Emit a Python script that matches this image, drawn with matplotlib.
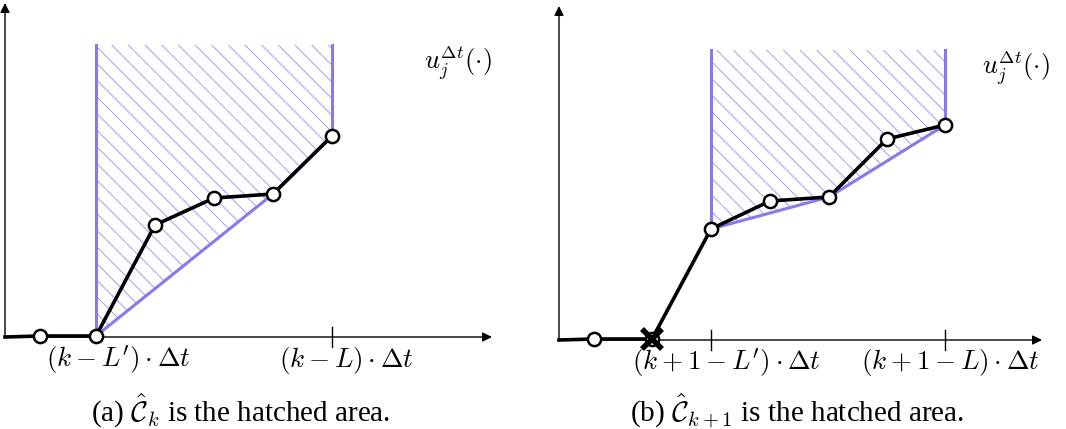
import matplotlib
matplotlib.use('Agg')
import matplotlib.pyplot as plt
from matplotlib.patches import Polygon

plt.rcParams['mathtext.fontset'] = 'cm'
plt.rcParams['font.family'] = 'Liberation Serif'
plt.rcParams['hatch.linewidth'] = 0.6

# diagram coordinates (same units as the 1066x429 canvas, y pointing down)
# panel (a)
a_x = [40, 96, 155, 214, 273, 332]
a_y = [336, 336, 225, 198, 194, 136]
a_hull = [1, 4, 5]             # indices of points on the lower boundary of the hatched set
a_ticks = [332]
a_ticklabels = [r"$(k-L')\cdot\Delta t$", r"$(k-L)\cdot\Delta t$"]
a_labelx = [118, 346]

# panel (b)
b_x = [594, 652, 711, 770, 829, 887, 945]
b_y = [339, 339, 229, 201, 197, 139, 125]
b_hull = [2, 4, 6]
b_ticks = [711, 945]
b_ticklabels = [r"$(k+1-L')\cdot\Delta t$", r"$(k+1-L)\cdot\Delta t$"]
b_labelx = [726, 950]

captions = [r"(a) $\hat{\mathcal{C}}_k$ is the hatched area.",
            r"(b) $\hat{\mathcal{C}}_{k+1}$ is the hatched area."]

purple = '#8a78ee'

fig = plt.figure(figsize=(10.66, 4.29), dpi=100)
ax = fig.add_axes([0, 0, 1, 1])
ax.set_xlim(0, 1066)
ax.set_ylim(429, 0)
ax.axis('off')


def panel(x0, axis_y, x_end, top, xs, ys, hull, ticks, ticklabels, labelx,
          hatch_top, ulabel_xy, caption, cap_x, cross=None):
    # axes with arrows
    ax.annotate('', xy=(x0, top), xytext=(x0, axis_y + 1),
                arrowprops=dict(arrowstyle='-|>', lw=1.0, color='k',
                                mutation_scale=14, shrinkA=0, shrinkB=0))
    ax.annotate('', xy=(x_end, axis_y), xytext=(x0, axis_y),
                arrowprops=dict(arrowstyle='-|>', lw=1.0, color='k',
                                mutation_scale=14, shrinkA=0, shrinkB=0))
    for t in ticks:
        ax.plot([t, t], [axis_y - 10, axis_y + 10], color='k', lw=1.0)

    # hatched set above lower envelope
    hx = [xs[i] for i in hull]
    hy = [ys[i] for i in hull]
    poly = [(hx[0], hatch_top), (hx[-1], hatch_top)] + list(zip(hx[::-1], hy[::-1]))
    ax.add_patch(Polygon(poly, closed=True, facecolor='none', edgecolor='#9a8cf2',
                         hatch='\\\\', lw=0, zorder=1))
    ax.plot([hx[0], hx[0]], [hatch_top, hy[0]], color=purple, lw=2.2, zorder=2)
    ax.plot([hx[-1], hx[-1]], [hatch_top, hy[-1]], color=purple, lw=2.2, zorder=2)
    ax.plot(hx, hy, color=purple, lw=2.2, zorder=2)

    # piecewise linear function with points
    ax.plot([x0] + xs, [axis_y] + ys, color='k', lw=2.6, zorder=3)
    ax.plot(xs, ys, 'o', ms=9.5, mfc='white', mec='k', mew=1.8, zorder=4)
    if cross is not None:
        ax.plot(xs[cross], ys[cross], 'x', ms=14, mec='k', mew=4, zorder=5)

    for lx, lab in zip(labelx, ticklabels):
        ax.text(lx, axis_y + 23, lab, fontsize=19.5, ha='center', va='center')
    ax.text(ulabel_xy[0], ulabel_xy[1], r"$u_j^{\Delta t}(\cdot)$", fontsize=19,
            ha='center', va='center')
    ax.text(cap_x, 410, caption, fontsize=21, ha='center', va='center')


panel(5, 337, 492, 3, a_x, a_y, a_hull, a_ticks, a_ticklabels, a_labelx,
      45, (458, 63), captions[0], 241)
panel(559, 340, 1042, 6, b_x, b_y, b_hull, b_ticks, b_ticklabels, b_labelx,
      50, (1016, 68), captions[1], 797, cross=1)

fig.savefig('out.png', dpi=100)
